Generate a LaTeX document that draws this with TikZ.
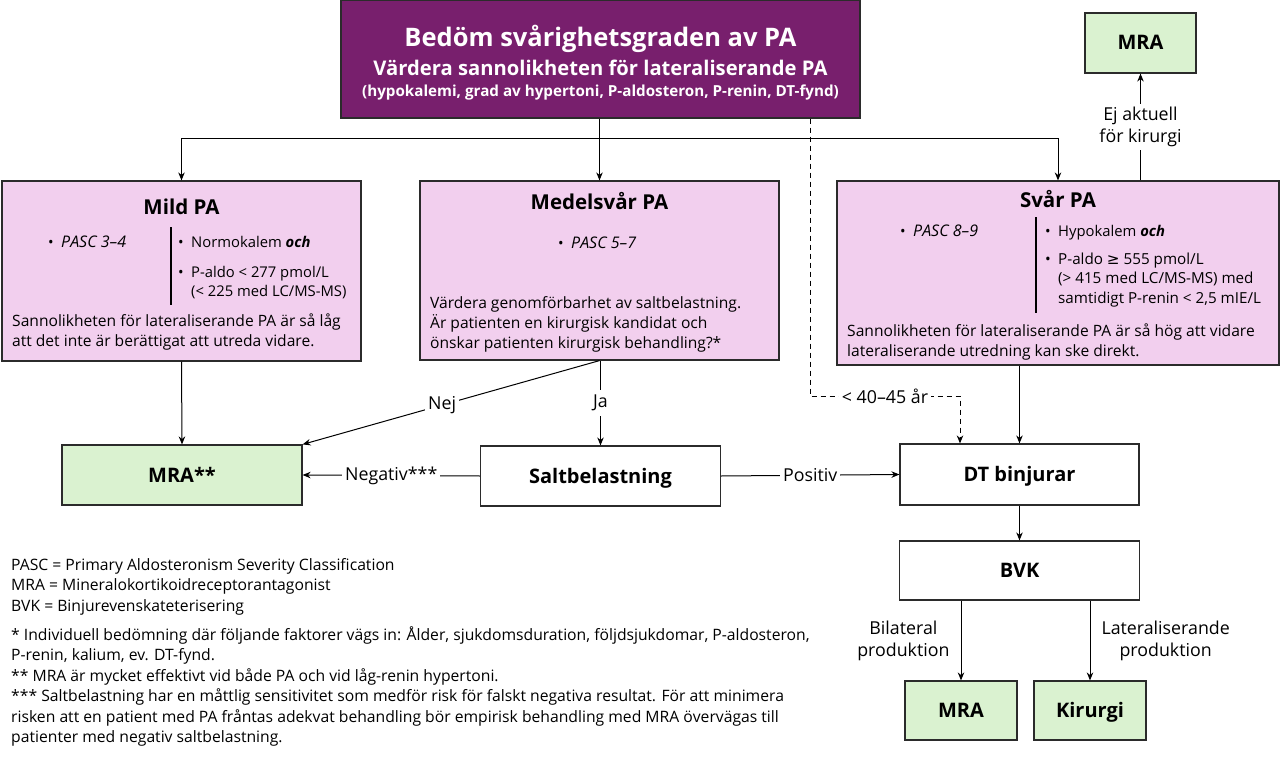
\documentclass[tikz,border=0pt]{standalone}
\usepackage{fontspec}
\setmainfont{Open Sans}
\newfontfamily\symfont{DejaVu Sans}
\usetikzlibrary{positioning,arrows.meta}

\definecolor{toppurple}{HTML}{781F6D}
\definecolor{pastelpink}{HTML}{F2CFEE}
\definecolor{pastelgreen}{HTML}{DAF2D0}
\definecolor{frame}{HTML}{2B2B2B}

\tikzstyle{block} = [rectangle, draw=frame, line width=1.2pt, inner sep=0pt, text height=14pt, text depth=0pt, font=\bfseries\fontsize{20}{22}\selectfont]
\tikzstyle{topblock} = [block, fill=toppurple]
\tikzstyle{pinkblock} = [block, fill=pastelpink]
\tikzstyle{greenblock} = [block, fill=pastelgreen]
\tikzstyle{whiteblock} = [block, fill=white]
\tikzstyle{arrow} = [line width=1pt, ->, >={Stealth[length=8pt,width=6.5pt]}]
\tikzstyle{dasharrow} = [arrow, dash pattern=on 5pt off 4pt]
\tikzstyle{divider} = [line width=1.6pt]
\tikzstyle{boxtitle} = [inner sep=0pt, anchor=base, font=\bfseries\fontsize{20.5}{22}\selectfont]
\tikzstyle{boxtext} = [inner sep=0pt, anchor=base west, font=\fontsize{14.8}{20}\selectfont]
\tikzstyle{boxpara} = [inner sep=0pt, anchor=north west, align=left, font=\fontsize{15.6}{20}\selectfont]
\tikzstyle{edgelabel} = [fill=white, inner sep=3pt, align=center, font=\fontsize{17.8}{22}\selectfont]
\tikzstyle{note} = [inner sep=0pt, anchor=north west, align=left, font=\fontsize{15.7}{20.5}\selectfont]

\newcommand{\bul}{\makebox[13pt][l]{•}}
\newcommand{\bulgap}{\hspace*{13pt}}

\begin{document}
\begin{tikzpicture}[x=1pt, y=-1pt, node distance=20pt]
\useasboundingbox (0,0) rectangle (1280,757);

% rad 1
\node (bedom) [topblock, minimum width=519pt, minimum height=118pt] at (600.5,59) {};
\node (bedomA) [boxtitle, text=white, font=\bfseries\fontsize{25.5}{28}\selectfont] at (600.5,47) {Bedöm svårighetsgraden av PA};
\node (bedomB) [boxtitle, text=white, font=\bfseries\fontsize{20.2}{22}\selectfont] at (600.5,76) {Värdera sannolikheten för lateraliserande PA};
\node (bedomC) [boxtitle, text=white, font=\bfseries\fontsize{15.2}{18}\selectfont] at (600.5,97) {(hypokalemi, grad av hypertoni, P-aldosteron, P-renin, DT-fynd)};
\node (mratop) [greenblock, minimum width=111pt, minimum height=60pt] at (1140.5,43) {MRA};

% rad 2
\node (mild) [pinkblock, minimum width=359pt, minimum height=180pt] at (181.5,271) {};
\node (medel) [pinkblock, minimum width=359pt, minimum height=179pt] at (599.5,270.5) {};
\node (svar) [pinkblock, minimum width=442pt, minimum height=184pt] at (1058,273) {};

\node (mildtitle) [boxtitle] at (181.5,214) {Mild PA};
\node (mildpasc) [boxtext] at (48,247) {\bul\textit{\fontsize{16}{20}\selectfont PASC 3–4}};
\draw[divider] (171,227) -- (171,305);
\node (mildkalem) [boxtext] at (178,247) {\bul Normokalem \textbf{\textit{och}}};
\node (mildaldo) [boxpara, font=\fontsize{14.8}{19}\selectfont] at (178,263.7) {\strut\bul P-aldo < 277 pmol/L\\\bulgap(< 225 med LC/MS-MS)};
\node (mildtext) [boxpara] at (12,312) {\strut Sannolikheten för lateraliserande PA är så låg\\att det inte är berättigat att utreda vidare.};

\node (medeltitle) [boxtitle] at (599.5,209) {Medelsvår PA};
\node (medelpasc) [boxtext] at (558,248) {\bul\textit{\fontsize{16}{20}\selectfont PASC 5–7}};
\node (medeltext) [boxpara] at (430,294) {\strut Värdera genomförbarhet av saltbelastning.\\Är patienten en kirurgisk kandidat och\\önskar patienten kirurgisk behandling?*};

\node (svartitle) [boxtitle] at (1058,207) {Svår PA};
\node (svarpasc) [boxtext] at (900,236) {\bul\textit{\fontsize{16}{20}\selectfont PASC 8–9}};
\draw[divider] (1036,217) -- (1036,313);
\node (svarkalem) [boxtext] at (1045,236) {\bul Hypokalem \textbf{\textit{och}}};
\node (svaraldo) [boxpara, font=\fontsize{15.2}{19.3}\selectfont] at (1045,250.7) {\strut\bul P-aldo {\symfont ≥} 555 pmol/L\\\bulgap(> 415 med LC/MS-MS) med\\\bulgap samtidigt P-renin < 2,5 mIE/L};
\node (svartext) [boxpara] at (847,322) {\strut Sannolikheten för lateraliserande PA är så hög att vidare\\lateraliserande utredning kan ske direkt.};

% rad 3
\node (mraleft) [greenblock, minimum width=240pt, minimum height=60pt] at (182,475) {MRA**};
\node (salt) [whiteblock, minimum width=240pt, minimum height=60pt] at (600.5,476) {Saltbelastning};
\node (dt) [whiteblock, minimum width=239pt, minimum height=61pt] at (1019.5,474.5) {DT binjurar};
\node (bvk) [whiteblock, minimum width=240pt, minimum height=59pt, below of=dt, node distance=96pt] {BVK};
\node (mrabot) [greenblock, minimum width=112pt, minimum height=59pt] at (961,710.5) {MRA};
\node (kirurgi) [greenblock, minimum width=112pt, minimum height=59pt, right of=mrabot, node distance=129pt] {Kirurgi};

\coordinate (split) at (599.5,139);
\coordinate (ageleft) at (810,396);
\coordinate (ageright) at (960,396);

\draw[arrow] (bedom.south -| medel.north) -- (medel.north);
\draw[arrow] (split) -| (mild.north);
\draw[arrow] (split) -| (svar.north);
\draw[arrow] (svar.north -| mratop.south) -- node[edgelabel]{Ej aktuell\\för kirurgi} (mratop.south);
\draw[arrow] (mild.south) -- (mraleft.north);
\draw[arrow] (medel.south) -- node[edgelabel, pos=0.53]{Nej} (mraleft.north east);
\draw[arrow] (medel.south -| salt.north) -- node[edgelabel, inner sep=5pt]{Ja} (salt.north);
\draw[arrow] (salt.west) -- node[edgelabel]{Negativ***} (mraleft.east);
\draw[arrow] (salt.east) -- node[edgelabel]{Positiv} (dt.west);
\draw[dasharrow] (bedom.south -| ageleft) -- (ageleft) -- node[edgelabel]{< 40–45 år} (ageright) -- (dt.north -| ageright);
\draw[arrow] (svar.south -| dt.north) -- (dt.north);
\draw[arrow] (dt.south) -- (bvk.north);
\draw[arrow] (bvk.south -| mrabot.north) -- node[edgelabel, fill=none, left=8pt]{Bilateral\\produktion} (mrabot.north);
\draw[arrow] (bvk.south -| kirurgi.north) -- node[edgelabel, fill=none, right=8pt]{Lateraliserande\\produktion} (kirurgi.north);

% fotnoter
\node (abbrev) [note] at (11,555.6) {\strut PASC = Primary Aldosteronism Severity Classification\\MRA = Mineralokortikoidreceptorantagonist\\BVK = Binjurevenskateterisering};
\node (footnotes) [note] at (11,625.6) {\strut * Individuell bedömning där följande faktorer vägs in: Ålder, sjukdomsduration, följdsjukdomar, P-aldosteron,\\P-renin, kalium, ev. DT-fynd.\\** MRA är mycket effektivt vid både PA och vid låg-renin hypertoni.\\*** Saltbelastning har en måttlig sensitivitet som medför risk för falskt negativa resultat. För att minimera\\risken att en patient med PA fråntas adekvat behandling bör empirisk behandling med MRA övervägas till\\patienter med negativ saltbelastning.};
\end{tikzpicture}
\end{document}
